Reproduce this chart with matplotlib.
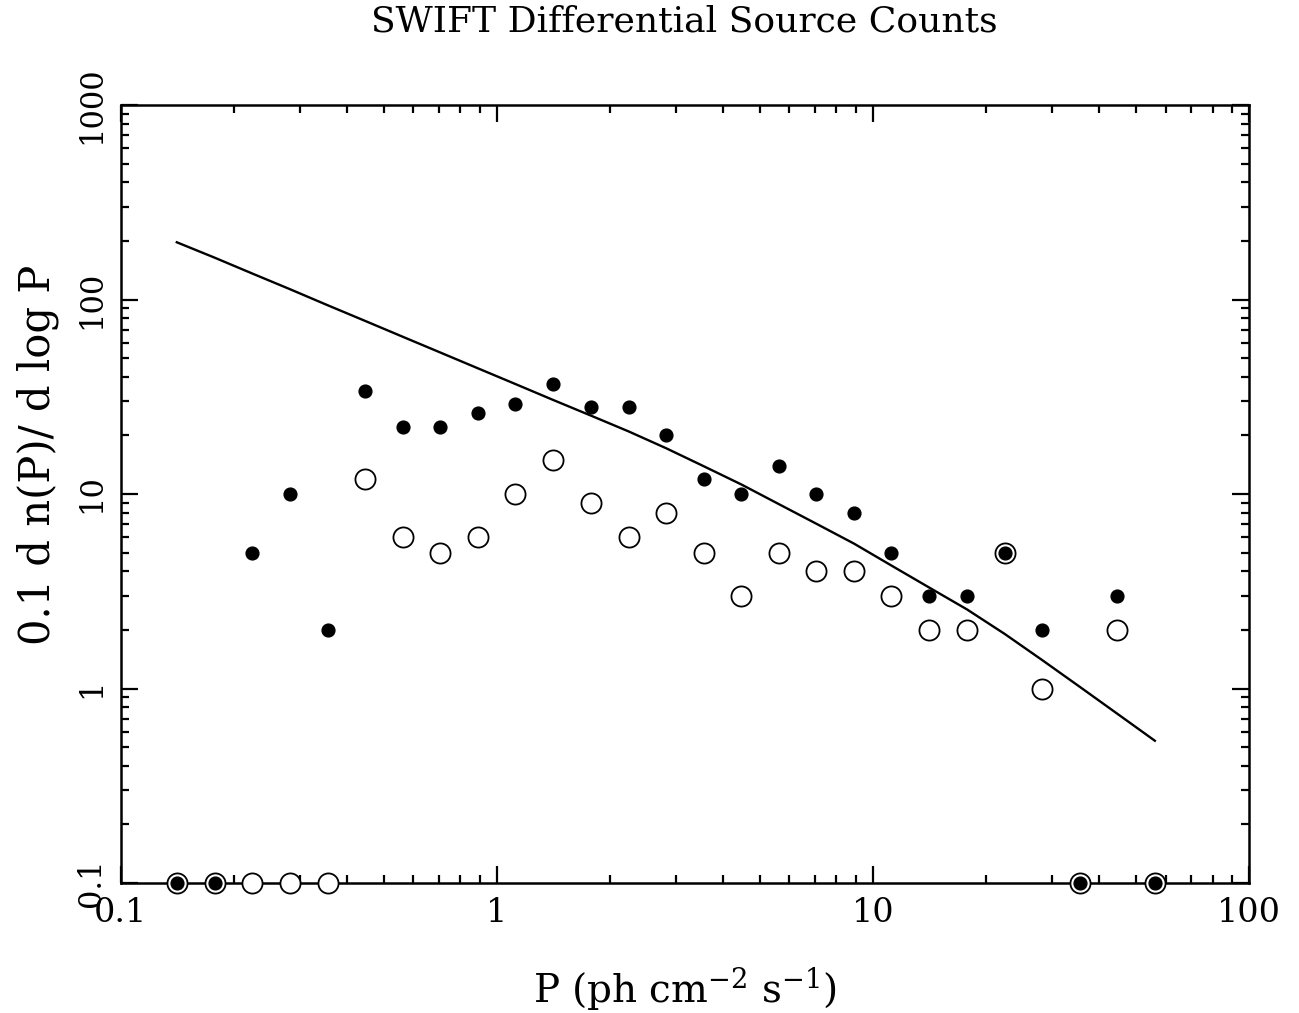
import numpy as np
import matplotlib
matplotlib.use("Agg")
import matplotlib.pyplot as plt
from matplotlib.ticker import LogLocator, NullFormatter, FixedLocator, FixedFormatter

# bin centres in P (0.1 dex bins)
p_bins = [0.141, 0.178, 0.224, 0.282, 0.355, 0.447, 0.562, 0.708, 0.891,
          1.12, 1.41, 1.78, 2.24, 2.82, 3.55, 4.47, 5.62, 7.08, 8.91,
          11.2, 14.1, 17.8, 22.4, 28.2, 35.5, 44.7, 56.2]

# filled dots (zeros drawn on the bottom axis)
counts_filled = [0, 0, 5, 10, 2, 34, 22, 22, 26, 29, 37, 28, 28, 20, 12, 10,
                 14, 10, 8, 5, 3, 3, 5, 2, 0, 3, 0]
# open circles
counts_open = [0, 0, 0, 0, 0, 12, 6, 5, 6, 10, 15, 9, 6, 8, 5, 3,
               5, 4, 4, 3, 2, 2, 5, 1, 0, 2, 0]
# model curve
model = [197, 164, 136, 113, 93.5, 77.6, 64.4, 53.4, 44.3, 36.8, 30.5, 25.3,
         21.0, 17.2, 13.9, 11.2, 8.88, 7.03, 5.56, 4.29, 3.31, 2.55, 1.91,
         1.40, 1.02, 0.741, 0.539]

plt.rcParams['font.family'] = 'DejaVu Serif'
plt.rcParams['mathtext.fontset'] = 'dejavuserif'

W, H = 1299, 1013
fig = plt.figure(figsize=(W / 100, H / 100), dpi=100)
ax = fig.add_axes([0.0929, 0.1283, 0.8686, 0.768])

floor = 0.1
ax.plot(p_bins, model, color='black', lw=1.7, zorder=2)
ax.plot(p_bins, np.maximum(counts_open, floor), 'o', mfc='white', mec='black',
        mew=1.3, ms=14.5, ls='none', clip_on=False, zorder=3)
ax.plot(p_bins, np.maximum(counts_filled, floor), 'o', color='black',
        ms=9.2, ls='none', clip_on=False, zorder=4)

ax.set_xscale('log')
ax.set_yscale('log')
ax.set_xlim(0.1, 100)
ax.set_ylim(0.1, 1000)

xt = [0.1, 1, 10, 100]
yt = [0.1, 1, 10, 100, 1000]
ax.xaxis.set_major_locator(FixedLocator(xt))
ax.xaxis.set_major_formatter(FixedFormatter(['0.1', '1', '10', '100']))
ax.yaxis.set_major_locator(FixedLocator(yt))
ax.yaxis.set_major_formatter(FixedFormatter(['0.1', '1', '10', '100', '1000']))
for a in (ax.xaxis, ax.yaxis):
    a.set_minor_locator(LogLocator(base=10, subs=np.arange(2, 10), numticks=20))
    a.set_minor_formatter(NullFormatter())

ax.tick_params(which='both', direction='in', top=True, right=True,
               width=1.6, color='black')
ax.tick_params(which='major', length=12.5, labelsize=24, pad=10)
ax.tick_params(axis='y', which='major', labelsize=22)
ax.tick_params(which='minor', length=6)
ax.tick_params(axis='y', which='major', labelrotation=90)
for lab in ax.get_yticklabels():
    lab.set_va('center')
for s in ax.spines.values():
    s.set_linewidth(1.8)

fig.text(0.5 * (120 + 1249) / W, 1 - 22 / H, 'SWIFT Differential Source Counts',
         fontsize=26, ha='center', va='center')
fig.text(0.5 * (120 + 1249) / W, 1 - 988 / H, r'P (ph cm$^{-2}$ s$^{-1}$)',
         fontsize=28, ha='center', va='center')
fig.text(38 / W, 1 - 455 / H, '0.1 d n(P)/ d log P', fontsize=30,
         rotation=90, ha='center', va='center')

fig.savefig('out.png', dpi=100)
